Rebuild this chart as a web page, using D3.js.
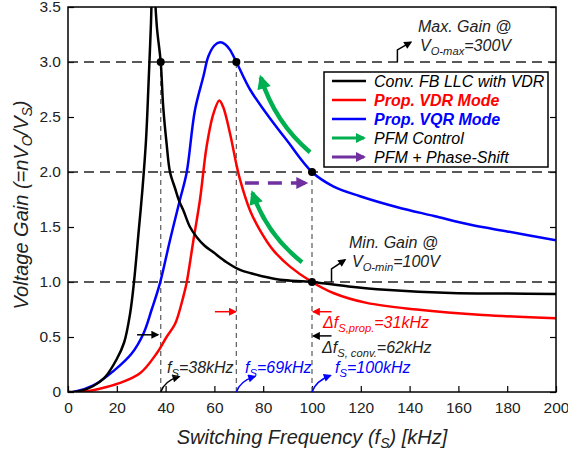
<!DOCTYPE html>
<html>
<head>
<meta charset="utf-8">
<script src="https://cdn.jsdelivr.net/npm/d3@7"></script>
<style>
  body { margin: 0; background: #fff; }
  text { font-family: "Liberation Sans", Arial, sans-serif; }
</style>
</head>
<body>
<div id="chart"></div>
<script>
// switching frequency [kHz] / voltage gain
const convFreq = [0,5,10,15,20,23,25.5,27,29,30.5,32,33,34,34.8,35.6,36.5,38,39,40.4,41.8,43.9,45.5,47.3,50,52.7,56,59.6,65,70.5,75,80,87,100,115,130,157,180,200];
const convGain = [0,0.01,0.05,0.13,0.3,0.45,0.72,0.99,1.47,1.84,2.3,2.8,3.35,3.9,3.6,3.3,3.0,2.6,2.26,2.0,1.85,1.74,1.65,1.5,1.41,1.33,1.27,1.18,1.11,1.08,1.05,1.02,1.0,0.96,0.93,0.9,0.895,0.89];

const vdrFreq = [0,5,13,21,29.5,36.3,40.4,43.9,47.3,48.6,51.4,54.1,56.8,59.6,62,63.6,66.4,69,70.5,74.6,78.7,84.1,91,100,108.7,122.4,142.9,170,200];
const vdrGain = [0,0,0.03,0.08,0.17,0.35,0.5,0.62,0.87,0.99,1.38,1.75,2.23,2.53,2.65,2.59,2.35,2.07,1.93,1.65,1.47,1.29,1.14,1.0,0.9,0.81,0.75,0.7,0.67];

const vqrFreq = [0,2.2,10.4,18.6,26.1,30.9,34.3,37.7,41.8,45.9,48.6,52,55.5,57.5,60,62.3,64.5,66.4,69,74.6,81.4,89.6,100,108.7,119.7,135,150,165,180,200];
const vqrGain = [0,0,0.06,0.19,0.35,0.53,0.75,0.99,1.38,1.75,1.99,2.56,2.87,3.05,3.15,3.18,3.16,3.11,3.0,2.75,2.53,2.29,2.0,1.87,1.78,1.68,1.6,1.52,1.46,1.38];

const xTicks = [0,20,40,60,80,100,120,140,160,180,200];
const yTicks = [0,0.5,1.0,1.5,2.0,2.5,3.0,3.5];
const gainLevels = [1.0, 2.0, 3.0];
const markFreqs = [38, 69, 100];
const markTops = [3.0, 3.0, 2.0];

const legendItems = [
  {label: "Conv. FB LLC with VDR", color: "#000", text: "#000", bold: false, arrow: false},
  {label: "Prop. VDR Mode", color: "#ff0000", text: "#ff0000", bold: true, arrow: false},
  {label: "Prop. VQR Mode", color: "#0000ff", text: "#0000ff", bold: true, arrow: false},
  {label: "PFM Control", color: "#00b050", text: "#000", bold: false, arrow: true},
  {label: "PFM + Phase-Shift", color: "#7030a0", text: "#000", bold: false, arrow: true}
];

const W = 568, H = 452;
const margin = {top: 7, right: 12, bottom: 60, left: 68};
const width = W - margin.left - margin.right;
const height = H - margin.top - margin.bottom;

const svg = d3.select("#chart").append("svg")
  .attr("width", W).attr("height", H);

const defs = svg.append("defs");
defs.append("clipPath").attr("id", "plotClip")
  .append("rect").attr("width", width).attr("height", height);

function marker(id, color, w, h) {
  defs.append("marker").attr("id", id)
    .attr("viewBox", "0 0 10 10").attr("refX", 8).attr("refY", 5)
    .attr("markerUnits", "userSpaceOnUse")
    .attr("markerWidth", w).attr("markerHeight", h)
    .attr("orient", "auto")
    .append("path").attr("d", "M0,0 L10,5 L0,10 Z").attr("fill", color);
}
marker("arrGreen", "#00b050", 16, 14);
marker("arrPurple", "#7030a0", 16, 12);
marker("arrGreenS", "#00b050", 12, 10);
marker("arrPurpleS", "#7030a0", 12, 10);
marker("arrBlack", "#000", 9, 8);
marker("arrRed", "#ff0000", 9, 8);
marker("arrBlue", "#0000ff", 9, 8);

const g = svg.append("g").attr("transform", `translate(${margin.left},${margin.top})`);

const x = d3.scaleLinear().domain([0, 200]).range([0, width]);
const y = d3.scaleLinear().domain([0, 3.5]).range([height, 0]);

// axes (ticks inside)
g.append("g").attr("transform", `translate(0,${height})`)
  .call(d3.axisBottom(x).tickValues(xTicks).tickSizeInner(-6).tickSizeOuter(0).tickPadding(10))
  .call(a => a.selectAll("text").attr("font-size", 15.5).attr("fill", "#222"));
g.append("g")
  .call(d3.axisLeft(y).tickValues(yTicks).tickSizeInner(-6).tickSizeOuter(0).tickPadding(7)
    .tickFormat(d => d === 0 ? "0" : d3.format(".1f")(d)))
  .call(a => a.selectAll("text").attr("font-size", 15.5).attr("fill", "#222"));
g.append("g").attr("transform", `translate(${width},0)`)
  .call(d3.axisRight(y).tickValues(yTicks).tickSizeInner(-6).tickSizeOuter(0).tickFormat(""));
g.selectAll(".domain").remove();
g.selectAll(".tick line").attr("stroke", "#000").attr("stroke-width", 1.2);

// reference lines
g.selectAll(".hline").data(gainLevels).join("line")
  .attr("x1", 0).attr("x2", width)
  .attr("y1", d => y(d)).attr("y2", d => y(d))
  .attr("stroke", "#222").attr("stroke-width", 1.5).attr("stroke-dasharray", "10,6");
g.selectAll(".vline").data(markFreqs).join("line")
  .attr("x1", d => x(d)).attr("x2", d => x(d))
  .attr("y1", height).attr("y2", (d, i) => y(markTops[i]))
  .attr("stroke", "#666").attr("stroke-width", 1.3).attr("stroke-dasharray", "5,4");

// curves
const line = d3.line().curve(d3.curveCatmullRom.alpha(0.5));
const series = [
  {f: vqrFreq, v: vqrGain, color: "#0000ff"},
  {f: vdrFreq, v: vdrGain, color: "#ff0000"},
  {f: convFreq, v: convGain, color: "#000"}
];
const curveG = g.append("g").attr("clip-path", "url(#plotClip)");
curveG.selectAll("path").data(series).join("path")
  .attr("d", s => line(s.f.map((f, i) => [x(f), y(s.v[i])])))
  .attr("fill", "none").attr("stroke", s => s.color).attr("stroke-width", 2.5);

// operating points
const dots = [[38, 3.0], [69, 3.0], [100, 2.0], [100, 1.0]];
g.selectAll(".dot").data(dots).join("circle")
  .attr("cx", d => x(d[0])).attr("cy", d => y(d[1])).attr("r", 4).attr("fill", "#000");

// frame
g.append("rect").attr("width", width).attr("height", height)
  .attr("fill", "none").attr("stroke", "#000").attr("stroke-width", 1.5);

// PFM / phase-shift arrows
const arrowPath = (p0, c, p1) => `M${x(p0[0])},${y(p0[1])} Q${x(c[0])},${y(c[1])} ${x(p1[0])},${y(p1[1])}`;
g.append("path").attr("d", arrowPath([99.2, 2.18], [84.8, 2.45], [79.0, 2.86]))
  .attr("fill", "none").attr("stroke", "#00b050").attr("stroke-width", 4.5).attr("marker-end", "url(#arrGreen)");
g.append("path").attr("d", arrowPath([95.9, 1.18], [81.6, 1.43], [75.6, 1.81]))
  .attr("fill", "none").attr("stroke", "#00b050").attr("stroke-width", 4.5).attr("marker-end", "url(#arrGreen)");
g.append("line").attr("x1", x(72.5)).attr("x2", x(97.5)).attr("y1", y(1.9)).attr("y2", y(1.9))
  .attr("stroke", "#7030a0").attr("stroke-width", 3.5).attr("stroke-dasharray", "14,9")
  .attr("marker-end", "url(#arrPurple)");

// small frequency-shift arrows
const smallArrows = [
  {a: [28.3, 0.52], b: [36.8, 0.52], m: "arrBlack", c: "#000"},
  {a: [60.2, 0.73], b: [68.6, 0.73], m: "arrRed", c: "#ff0000"},
  {a: [108.0, 0.73], b: [100.6, 0.73], m: "arrRed", c: "#ff0000"},
  {a: [108.0, 0.51], b: [100.6, 0.51], m: "arrBlack", c: "#000"}
];
g.selectAll(".sarrow").data(smallArrows).join("line")
  .attr("x1", d => x(d.a[0])).attr("y1", d => y(d.a[1]))
  .attr("x2", d => x(d.b[0])).attr("y2", d => y(d.b[1]))
  .attr("stroke", d => d.c).attr("stroke-width", 1.5)
  .attr("marker-end", d => `url(#${d.m})`);

// hooked pointer arrows
const hooks = [
  {p: [[38, 0], [39.5, 0.1], [45.5, 0.14]], c: "#000", m: "arrBlack"},
  {p: [[69, 0], [70.5, 0.1], [76.5, 0.14]], c: "#0000ff", m: "arrBlue"},
  {p: [[100, 0], [101.5, 0.1], [107.5, 0.15]], c: "#0000ff", m: "arrBlue"}
];
g.selectAll(".hook").data(hooks).join("path")
  .attr("d", d => arrowPath(d.p[0], d.p[1], d.p[2]))
  .attr("fill", "none").attr("stroke", d => d.c).attr("stroke-width", 1.5)
  .attr("marker-end", d => `url(#${d.m})`);

const elbows = [
  [[135, 3.0], [135, 3.11], [140.5, 3.18]],
  [[108, 1.0], [108, 1.12], [113.5, 1.2]]
];
g.selectAll(".elbow").data(elbows).join("polyline")
  .attr("points", d => d.map(p => `${x(p[0])},${y(p[1])}`).join(" "))
  .attr("fill", "none").attr("stroke", "#000").attr("stroke-width", 1.5)
  .attr("marker-end", "url(#arrBlack)");

// annotation text with subscripts
function richText(px, py, parts, color, size) {
  const t = svg.append("text").attr("x", px).attr("y", py)
    .attr("font-size", size).attr("font-style", "italic").attr("fill", color);
  let shift = 0;
  parts.forEach(p => {
    if (typeof p === "string") {
      t.append("tspan").attr("dy", -shift).text(p);
      shift = 0;
    } else {
      t.append("tspan").attr("font-size", size * 0.7).attr("dy", 4).text(p.sub);
      shift = 4;
    }
  });
  return t;
}
richText(418, 32, ["Max. Gain @"], "#222", 16);
richText(420, 51, ["V", {sub: "O-max"}, "=300V"], "#222", 16);
richText(349, 248, ["Min. Gain @"], "#222", 16);
richText(352, 267, ["V", {sub: "O-min"}, "=100V"], "#222", 16);
richText(323, 328, ["\u0394f", {sub: "S,prop."}, "=31kHz"], "#ff0000", 16);
richText(322, 353, ["\u0394f", {sub: "S, conv."}, "=62kHz"], "#222", 16);
richText(167, 373, ["f", {sub: "S"}, "=38kHz"], "#222", 16);
richText(245, 373, ["f", {sub: "S"}, "=69kHz"], "#0000ff", 16);
richText(335, 373, ["f", {sub: "S"}, "=100kHz"], "#0000ff", 16);

// legend
const lg = svg.append("g").attr("transform", "translate(324,72)");
lg.append("rect").attr("width", 224).attr("height", 95)
  .attr("fill", "#fff").attr("stroke", "#000").attr("stroke-width", 1.5);
const le = lg.selectAll(".le").data(legendItems).join("g")
  .attr("transform", (d, i) => `translate(0,${9 + i * 19})`);
le.append("line").attr("x1", 8).attr("x2", d => d.arrow ? 40 : 42).attr("y1", 0).attr("y2", 0)
  .attr("stroke", d => d.color).attr("stroke-width", d => d.arrow ? 3 : 2.5)
  .attr("marker-end", d => d.arrow ? (d.color === "#00b050" ? "url(#arrGreenS)" : "url(#arrPurpleS)") : null);
le.append("text").attr("x", 50).attr("y", 5.5)
  .attr("font-size", 16).attr("font-style", "italic")
  .attr("font-weight", d => d.bold ? "bold" : "normal")
  .attr("fill", d => d.text).text(d => d.label);

// axis titles
const xt = svg.append("text").attr("x", 312).attr("y", 444).attr("text-anchor", "middle")
  .attr("font-size", 20).attr("font-style", "italic").attr("fill", "#222");
xt.append("tspan").text("Switching Frequency (f");
xt.append("tspan").attr("font-size", 14).attr("dy", 4).text("S");
xt.append("tspan").attr("dy", -4).text(") [kHz]");

const yt = svg.append("text").attr("transform", "translate(28,205) rotate(-90)")
  .attr("text-anchor", "middle").attr("font-size", 20).attr("font-style", "italic").attr("fill", "#222");
yt.append("tspan").text("Voltage Gain (=nV");
yt.append("tspan").attr("font-size", 14).attr("dy", 4).text("O");
yt.append("tspan").attr("dy", -4).text("/V");
yt.append("tspan").attr("font-size", 14).attr("dy", 4).text("S");
yt.append("tspan").attr("dy", -4).text(")");
</script>
</body>
</html>
